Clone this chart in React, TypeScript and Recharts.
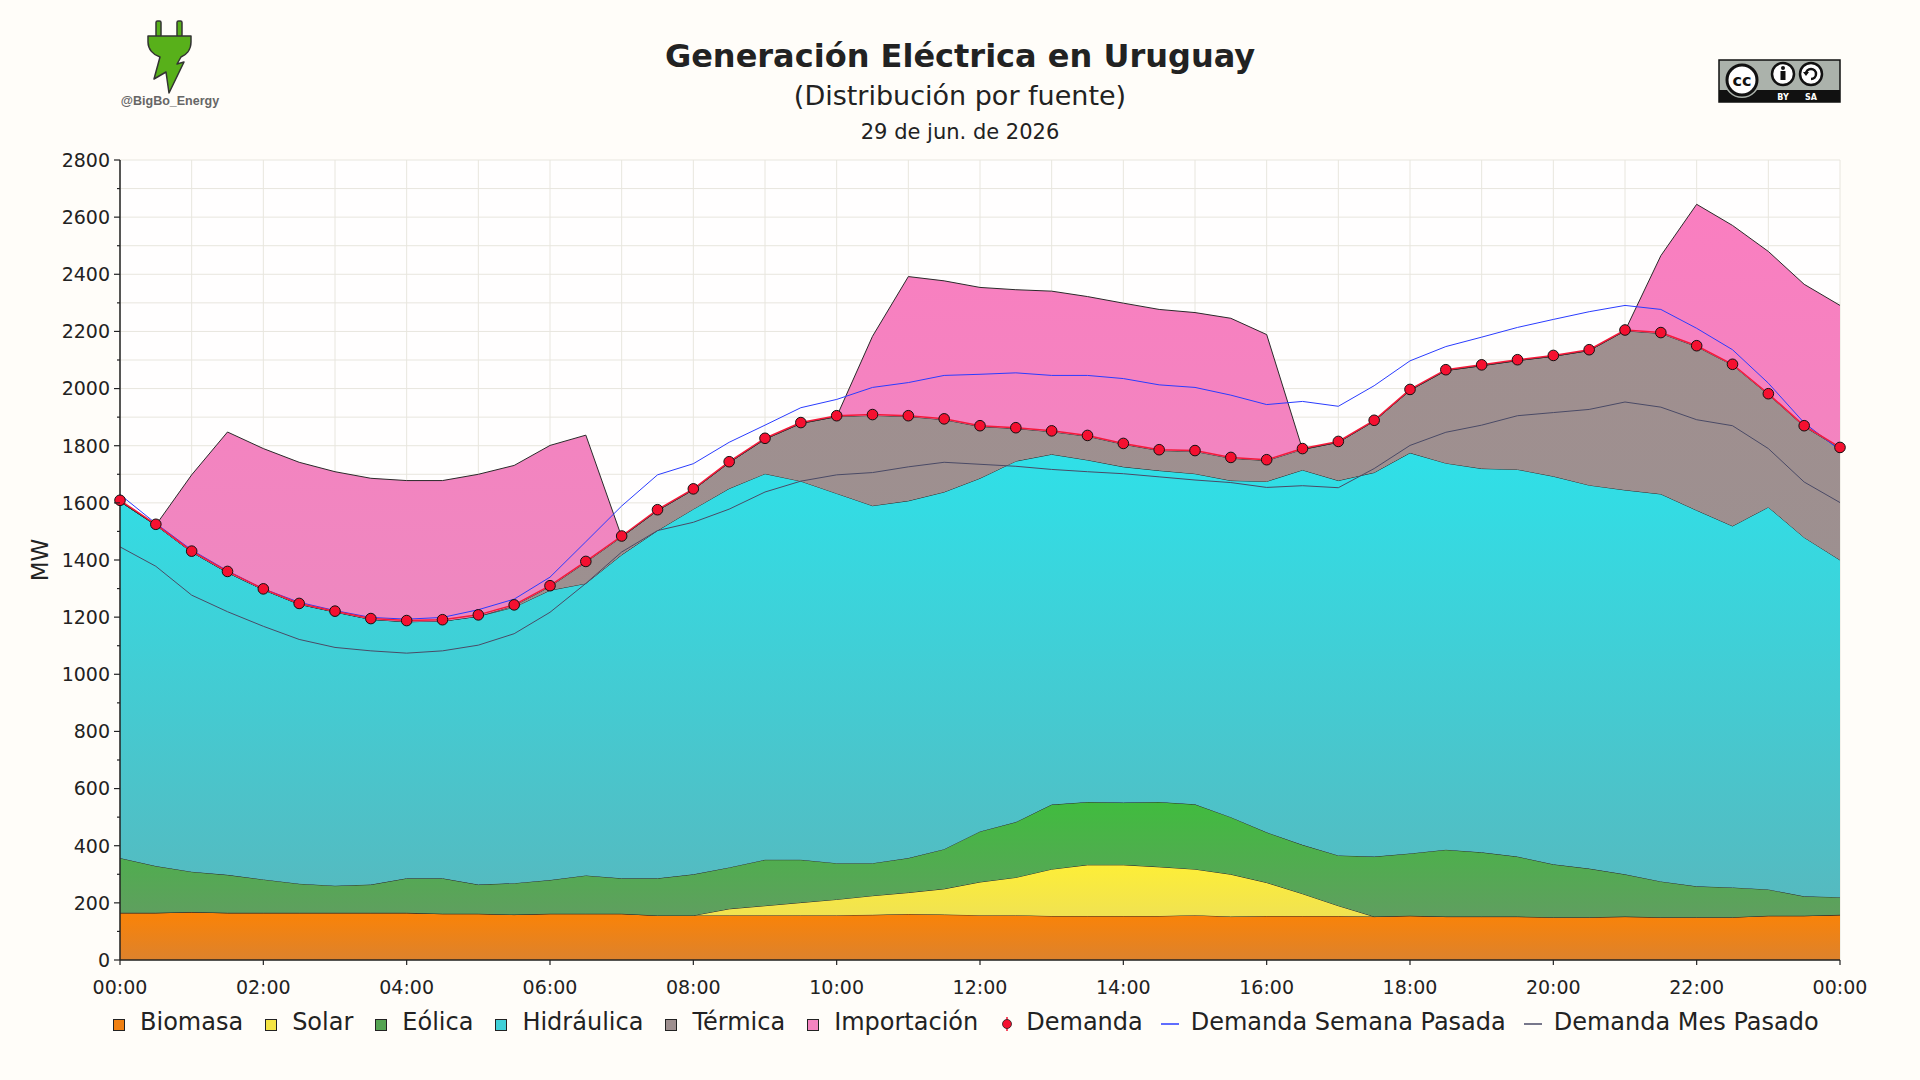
import {
    ComposedChart,
    Area,
    Line,
    XAxis,
    YAxis,
    CartesianGrid,
} from 'recharts';

// half-hour slots, 00:00 .. 24:00
const HOURS = [
    0, 0.5, 1, 1.5, 2, 2.5, 3, 3.5, 4, 4.5, 5, 5.5, 6, 6.5, 7, 7.5, 8, 8.5, 9, 9.5,
    10, 10.5, 11, 11.5, 12, 12.5, 13, 13.5, 14, 14.5, 15, 15.5, 16, 16.5, 17, 17.5,
    18, 18.5, 19, 19.5, 20, 20.5, 21, 21.5, 22, 22.5, 23, 23.5, 24,
];

const BIOMASA = [
    165, 165, 168, 165, 165, 165, 165, 165, 165, 162, 162, 159, 162, 162, 162, 156, 156,
    157, 157, 157, 157, 158, 161, 159, 157, 157, 154, 154, 154, 154, 157, 152, 154, 154,
    154, 152, 155, 152, 152, 152, 150, 150, 152, 150, 150, 150, 155, 155, 158,
];
const SOLAR = [
    0, 0, 0, 0, 0, 0, 0, 0, 0, 0, 0, 0, 0, 0, 0, 0, 0,
    22, 33, 44, 55, 67, 75, 90, 116, 132, 164, 179, 179, 172, 161, 148, 117, 78, 36,
    0, 0, 0, 0, 0, 0, 0, 0, 0, 0, 0, 0, 0, 0,
];
const EOLICA = [
    192, 164, 141, 133, 117, 102, 95, 99, 121, 124, 102, 110, 118, 134, 124, 130, 144,
    145, 161, 150, 127, 114, 121, 139, 177, 194, 226, 220, 218, 227, 227, 200, 176, 171,
    176, 210, 218, 234, 225, 210, 185, 170, 148, 125, 108, 104, 92, 68, 62,
];
const HIDRAULICA = [
    1248, 1193, 1119, 1058, 1014, 978, 958, 928, 898, 900, 939, 966, 1014, 1022, 1132,
    1217, 1278, 1326, 1351, 1325, 1294, 1251, 1250, 1250, 1236, 1263, 1226, 1197, 1175,
    1160, 1157, 1178, 1228, 1312, 1312, 1344, 1402, 1353, 1343, 1355, 1358, 1342, 1345,
    1356, 1316, 1265, 1338, 1256, 1180,
];
const TERMICA = [
    0, 0, 0, 0, 0, 0, 0, 0, 0, 0, 0, 5, 13, 74, 63, 70, 68, 91, 121, 202, 269, 316, 295,
    253, 181, 114, 79, 83, 79, 70, 78, 78, 73, 72, 134, 180, 219, 324, 360, 381, 420, 471,
    557, 562, 573, 563, 394, 388, 391,
];
const IMPORTACION = [
    0, 0, 270, 492, 494, 497, 491, 494, 494, 492, 497, 491, 494, 445, 0, 0, 0, 0, 0, 0, 0,
    277, 490, 486, 487, 486, 492, 489, 494, 494, 486, 490, 441, 0, 0, 0, 0, 0, 0, 0, 0, 0,
    0, 272, 498, 489, 501, 498, 500,
];
const DEMANDA = [
    1609, 1525, 1431, 1360, 1299, 1248, 1221, 1195, 1188, 1191, 1208, 1243, 1310, 1395,
    1484, 1576, 1649, 1744, 1826, 1881, 1905, 1909, 1905, 1894, 1870, 1863, 1852, 1836,
    1808, 1786, 1783, 1759, 1751, 1790, 1815, 1889, 1997, 2066, 2083, 2101, 2116, 2136,
    2205, 2196, 2150, 2085, 1982, 1870, 1794,
];
const SEMANA_PASADA = [
    1629, 1528, 1435, 1362, 1299, 1252, 1223, 1199, 1193, 1199, 1226, 1263, 1340, 1464,
    1589, 1698, 1737, 1812, 1872, 1933, 1962, 2004, 2021, 2046, 2050, 2055, 2046, 2046,
    2035, 2013, 2004, 1977, 1944, 1955, 1938, 2010, 2097, 2147, 2180, 2214, 2242, 2269,
    2291, 2277, 2211, 2136, 2019, 1880, 1784,
];
const MES_PASADO = [
    1446, 1378, 1277, 1219, 1168, 1122, 1094, 1082, 1074, 1082, 1102, 1142, 1217, 1318,
    1428, 1503, 1532, 1578, 1638, 1676, 1698, 1706, 1726, 1742, 1735, 1728, 1717, 1709,
    1702, 1691, 1680, 1671, 1654, 1660, 1653, 1720, 1801, 1847, 1872, 1905, 1916, 1927,
    1953, 1935, 1891, 1870, 1790, 1673, 1601,
];

const HOUR_TICKS = [0, 1, 2, 3, 4, 5, 6, 7, 8, 9, 10, 11, 12, 13, 14, 15, 16, 17, 18, 19, 20, 21, 22, 23, 24];
const X_LABEL_TICKS = [0, 2, 4, 6, 8, 10, 12, 14, 16, 18, 20, 22, 24];
const X_LABELS = ['00:00', '02:00', '04:00', '06:00', '08:00', '10:00', '12:00', '14:00', '16:00', '18:00', '20:00', '22:00', '00:00'];
const Y_TICKS = [
    0, 100, 200, 300, 400, 500, 600, 700, 800, 900, 1000, 1100, 1200, 1300, 1400,
    1500, 1600, 1700, 1800, 1900, 2000, 2100, 2200, 2300, 2400, 2500, 2600, 2700, 2800,
];

const FONT = '"DejaVu Sans", sans-serif';
const INK = '#222';

const data = HOURS.map((h, i) => ({
    h,
    biomasa:     BIOMASA[i],
    solar:       SOLAR[i],
    eolica:      EOLICA[i],
    hidraulica:  HIDRAULICA[i],
    termica:     TERMICA[i],
    importacion: IMPORTACION[i],
    demanda:     DEMANDA[i],
    semana:      SEMANA_PASADA[i],
    mes:         MES_PASADO[i],
}));

const LEGEND = [
    { label: 'Biomasa',     kind: 'box', color: '#f08012' },
    { label: 'Solar',       kind: 'box', color: '#f4e444' },
    { label: 'Eólica',      kind: 'box', color: '#54a452' },
    { label: 'Hidráulica',  kind: 'box', color: '#3fd0d8' },
    { label: 'Térmica',     kind: 'box', color: '#9e8f8f' },
    { label: 'Importación', kind: 'box', color: '#f484c0' },
    { label: 'Demanda',     kind: 'dot', color: '#f51030' },
    { label: 'Demanda Semana Pasada', kind: 'line', color: '#2a3cff' },
    { label: 'Demanda Mes Pasado',    kind: 'line', color: '#4a4a66' },
];

function YTick(props: any) {
    const { x, y, payload } = props;
    const v = payload.value as number;
    const major = v % 200 === 0;
    const axisX = x + 10;
    return (
        <g>
            <line x1={axisX} x2={axisX - (major ? 6 : 3)} y1={y} y2={y} stroke={INK} strokeWidth={1.2} />
            {major && (
                <text x={x} y={y} dy="0.36em" textAnchor="end" fontSize={19} fill={INK} fontFamily={FONT}>
                    {v}
                </text>
            )}
        </g>
    );
}

function XTick(props: any) {
    const { x, y, payload } = props;
    const idx = X_LABEL_TICKS.indexOf(payload.value);
    if (idx < 0) return <g />;
    const axisY = y - 21;
    return (
        <g>
            <line x1={x} x2={x} y1={axisY} y2={axisY + 5} stroke={INK} strokeWidth={1.2} />
            <text x={x} y={y} dy="0.71em" textAnchor="middle" fontSize={19} fill={INK} fontFamily={FONT}>
                {X_LABELS[idx]}
            </text>
        </g>
    );
}

function LegendMarker({ kind, color }: { kind: string; color: string }) {
    if (kind === 'box') {
        return (
            <span style={{
                display: 'inline-block', width: 10, height: 10, background: color,
                border: '1.5px solid #222', marginRight: 15, transform: 'translateY(3px)',
            }} />
        );
    }
    if (kind === 'dot') {
        return (
            <svg width={14} height={20} style={{ marginRight: 12, transform: 'translateY(2px)' }}>
                <line x1={7} x2={7} y1={3} y2={17} stroke={color} strokeWidth={1.5} />
                <circle cx={7} cy={10} r={4.5} fill={color} stroke="#222" strokeWidth={0.8} />
            </svg>
        );
    }
    return (
        <svg width={18} height={20} style={{ marginLeft: -4, marginRight: 12, transform: 'translateY(2px)' }}>
            <line x1={0} x2={18} y1={10} y2={10} stroke={color} strokeWidth={1.5} />
        </svg>
    );
}

function Logo() {
    return (
        <svg width={1920} height={140} style={{ position: 'absolute', left: 0, top: 0, pointerEvents: 'none' }}>
            {/* plug + bolt */}
            <rect x={156} y={21} width={5} height={16} rx={1.5} fill="#58b01a" stroke="#333" strokeWidth={1.5} />
            <rect x={177} y={21} width={5} height={16} rx={1.5} fill="#58b01a" stroke="#333" strokeWidth={1.5} />
            <path
                d="M148,36 L191,36 L191,42 C191,50 186,55 181,57 L177,64 L184,62 L169,93 L166,72 L154,79 L160,57 C153,55 148,49 148,42 Z"
                fill="#58b01a" stroke="#333" strokeWidth={1.5} strokeLinejoin="round"
            />
            <text x={170} y={105} textAnchor="middle" fontSize={12.5} fontWeight="bold" fill="#666"
                fontFamily='"Liberation Sans", Arial, sans-serif'>@BigBo_Energy</text>

            {/* CC BY-SA badge */}
            <rect x={1719} y={60} width={121} height={42} fill="#abb2ab" stroke="#111" strokeWidth={1.5} />
            <rect x={1719} y={90} width={121} height={12} fill="#111" />
            <circle cx={1742} cy={80} r={18} fill="#abb2ab" />
            <circle cx={1742} cy={80} r={15} fill="#fff" stroke="#111" strokeWidth={3} />
            <text x={1742} y={86} textAnchor="middle" fontSize={16} fontWeight="bold" fill="#111" fontFamily={FONT}>cc</text>
            <circle cx={1783} cy={74} r={11} fill="#fff" stroke="#111" strokeWidth={2.5} />
            <circle cx={1783} cy={68} r={2} fill="#111" />
            <rect x={1780.5} y={71} width={5} height={9} fill="#111" />
            <circle cx={1811} cy={74} r={11} fill="#fff" stroke="#111" strokeWidth={2.5} />
            <path d="M1806,74 A5,5 0 1 1 1811,79" fill="none" stroke="#111" strokeWidth={2.5} />
            <path d="M1803,72 L1806,76 L1809,72 Z" fill="#111" />
            <text x={1783} y={99.5} textAnchor="middle" fontSize={8} fontWeight="bold" fill="#fff" fontFamily={FONT}>BY</text>
            <text x={1811} y={99.5} textAnchor="middle" fontSize={8} fontWeight="bold" fill="#fff" fontFamily={FONT}>SA</text>
        </svg>
    );
}

export default function App() {
    return (
        <div style={{
            position: 'absolute', left: 0, top: 0, width: 1920, height: 1080,
            background: '#fffdf9', fontFamily: FONT, color: INK, overflow: 'hidden',
        }}>
            <Logo />

            <div style={{ position: 'absolute', left: 0, width: 1920, top: 40, textAlign: 'center', fontSize: 32, lineHeight: 1, fontWeight: 'bold' }}>
                Generación Eléctrica en Uruguay
            </div>
            <div style={{ position: 'absolute', left: 0, width: 1920, top: 82, textAlign: 'center', fontSize: 27, lineHeight: 1 }}>
                (Distribución por fuente)
            </div>
            <div style={{ position: 'absolute', left: 0, width: 1920, top: 122, textAlign: 'center', fontSize: 21, lineHeight: 1 }}>
                29 de jun. de 2026
            </div>

            <div style={{
                position: 'absolute', left: 40, top: 560, fontSize: 23, lineHeight: 1,
                transform: 'translate(-50%, -50%) rotate(-90deg)',
            }}>
                MW
            </div>

            <div style={{ position: 'absolute', left: 0, top: 0 }}>
                <ComposedChart width={1920} height={1080} data={data} margin={{ top: 160, right: 80, bottom: 90, left: 60 }}>
                    <defs>
                        <linearGradient id="gBio" x1="0" y1="0" x2="0" y2="1">
                            <stop offset="0%" stopColor="#fb8306" />
                            <stop offset="100%" stopColor="#dd822c" />
                        </linearGradient>
                        <linearGradient id="gSol" x1="0" y1="0" x2="0" y2="1">
                            <stop offset="0%" stopColor="#fdee38" />
                            <stop offset="100%" stopColor="#f0e252" />
                        </linearGradient>
                        <linearGradient id="gEol" x1="0" y1="0" x2="0" y2="1">
                            <stop offset="0%" stopColor="#40bc3e" />
                            <stop offset="100%" stopColor="#609e60" />
                        </linearGradient>
                        <linearGradient id="gHid" x1="0" y1="0" x2="0" y2="1">
                            <stop offset="0%" stopColor="#2fe0e8" />
                            <stop offset="100%" stopColor="#55bac0" />
                        </linearGradient>
                        <linearGradient id="gTer" x1="0" y1="0" x2="0" y2="1">
                            <stop offset="0%" stopColor="#a08f8f" />
                            <stop offset="100%" stopColor="#9c9090" />
                        </linearGradient>
                        <linearGradient id="gImp" x1="0" y1="0" x2="0" y2="1">
                            <stop offset="0%" stopColor="#fa7ec0" />
                            <stop offset="100%" stopColor="#ee88c0" />
                        </linearGradient>
                    </defs>
                    <CartesianGrid stroke="#e8e6de" strokeWidth={1} fill="#fffefe" />
                    <XAxis
                        dataKey="h"
                        type="number"
                        domain={[0, 24]}
                        ticks={HOUR_TICKS}
                        interval={0}
                        tick={<XTick />}
                        tickLine={false}
                        tickSize={5}
                        tickMargin={16}
                        height={30}
                        axisLine={{ stroke: INK, strokeWidth: 1.5 }}
                    />
                    <YAxis
                        type="number"
                        domain={[0, 2800]}
                        ticks={Y_TICKS}
                        interval={0}
                        tick={<YTick />}
                        tickLine={false}
                        tickSize={6}
                        tickMargin={4}
                        width={60}
                        axisLine={{ stroke: INK, strokeWidth: 1.5 }}
                    />
                    <Area type="linear" dataKey="biomasa" stackId="gen" stroke="#2a2a2a" strokeWidth={1} fill="url(#gBio)" fillOpacity={1} isAnimationActive={false} activeDot={false} />
                    <Area type="linear" dataKey="solar" stackId="gen" stroke="#2a2a2a" strokeWidth={1} fill="url(#gSol)" fillOpacity={1} isAnimationActive={false} activeDot={false} />
                    <Area type="linear" dataKey="eolica" stackId="gen" stroke="#2a2a2a" strokeWidth={1} fill="url(#gEol)" fillOpacity={1} isAnimationActive={false} activeDot={false} />
                    <Area type="linear" dataKey="hidraulica" stackId="gen" stroke="#2a2a2a" strokeWidth={1} fill="url(#gHid)" fillOpacity={1} isAnimationActive={false} activeDot={false} />
                    <Area type="linear" dataKey="termica" stackId="gen" stroke="#2a2a2a" strokeWidth={1} fill="url(#gTer)" fillOpacity={1} isAnimationActive={false} activeDot={false} />
                    <Area type="linear" dataKey="importacion" stackId="gen" stroke="#2a2a2a" strokeWidth={1} fill="url(#gImp)" fillOpacity={1} isAnimationActive={false} activeDot={false} />
                    <Line type="linear" dataKey="mes" stroke="#4a4a66" strokeWidth={1} dot={false} activeDot={false} isAnimationActive={false} />
                    <Line type="linear" dataKey="semana" stroke="#2a3cff" strokeWidth={1} dot={false} activeDot={false} isAnimationActive={false} />
                    <Line
                        type="linear"
                        dataKey="demanda"
                        stroke="#f51a3a"
                        strokeWidth={1.5}
                        dot={{ r: 5.3, fill: '#f51030', stroke: '#111', strokeWidth: 1 }}
                        activeDot={false}
                        isAnimationActive={false}
                    />
                </ComposedChart>
            </div>

            <div style={{
                position: 'absolute', left: 113, top: 1007, height: 30, display: 'flex',
                alignItems: 'center', fontSize: 24, lineHeight: '30px', whiteSpace: 'nowrap',
            }}>
                {LEGEND.map((item) => (
                    <span key={item.label} style={{ display: 'inline-flex', alignItems: 'center', marginRight: 22 }}>
                        <LegendMarker kind={item.kind} color={item.color} />
                        <span>{item.label}</span>
                    </span>
                ))}
            </div>
        </div>
    );
}
